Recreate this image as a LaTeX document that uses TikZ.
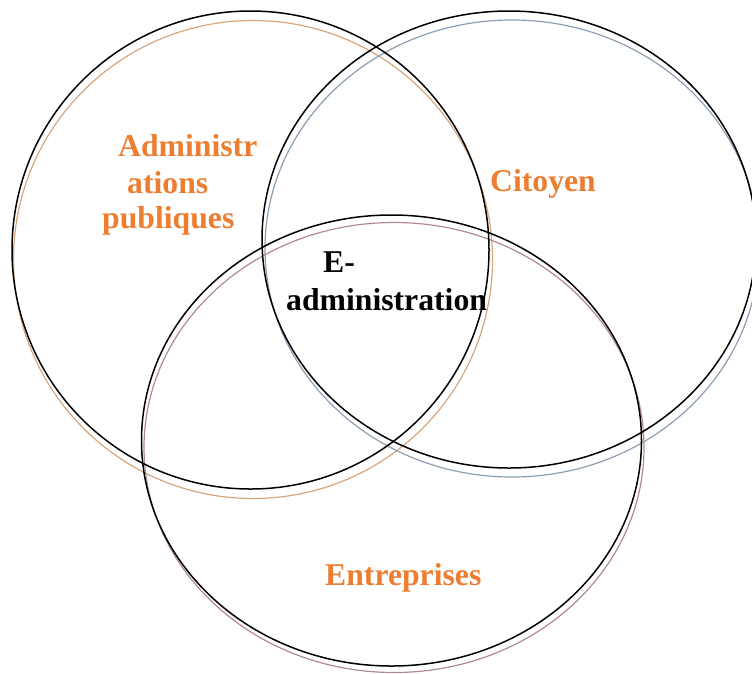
\documentclass[tikz,border=0pt]{standalone}
\usepackage{fontspec}
\setmainfont{Liberation Serif}
\definecolor{admtan}{RGB}{214,166,124}
\definecolor{citgray}{RGB}{140,158,178}
\definecolor{entmauve}{RGB}{176,138,140}
\definecolor{lblorange}{RGB}{237,125,49}
\tikzset{
  blackring/.style={draw=black, line width=1.5pt},
  shadowring/.style={line width=1.2pt},
  lbl/.style={inner sep=0pt, anchor=base west, font=\bfseries\fontsize{31.7}{38}\selectfont},
  orangelbl/.style={lbl, text=lblorange},
  blacklbl/.style={lbl, text=black}
}
\begin{document}
\begin{tikzpicture}[x=1pt,y=-1pt]
\useasboundingbox (0,0) rectangle (752,673);
% shadow rings
\draw[shadowring, draw=admtan] (253,259.5) ellipse [x radius=239.5pt, y radius=239pt];
\draw[shadowring, draw=citgray] (512,248.5) ellipse [x radius=247pt, y radius=228.5pt];
\draw[shadowring, draw=entmauve] (394,447.5) ellipse [x radius=250pt, y radius=225pt];
% black rings
\draw[blackring] (250.5,250) ellipse [x radius=238.5pt, y radius=239pt];
\draw[blackring] (509,239.5) ellipse [x radius=247pt, y radius=228.5pt];
\draw[blackring] (391.5,440.5) ellipse [x radius=250pt, y radius=225.5pt];
% labels
\node[orangelbl] (adm1) at (118,156) {Administr};
\node[orangelbl] (adm2) at (127,193) {ations};
\node[orangelbl] (adm3) at (102,228) {publiques};
\node[orangelbl] (cit) at (490,191) {Citoyen};
\node[blacklbl] (eadm1) at (323,272) {E-};
\node[blacklbl] (eadm2) at (286,310) {administration};
\node[orangelbl] (ent) at (325,585) {Entreprises};
\end{tikzpicture}
\end{document}
